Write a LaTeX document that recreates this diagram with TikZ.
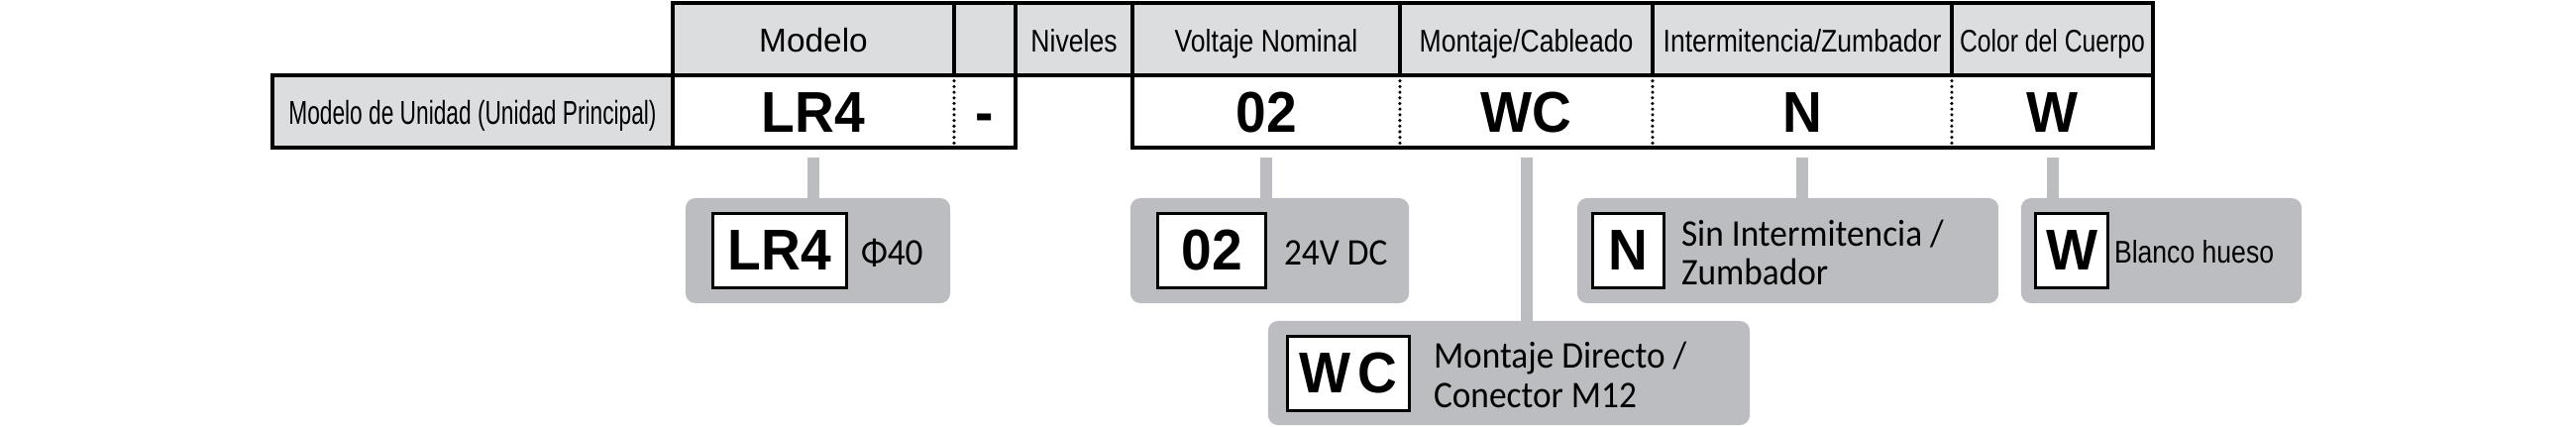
\documentclass[tikz,border=0pt]{standalone}
\usepackage{graphicx}
\usepackage{fontspec}
\setmainfont{Liberation Sans}
\newfontfamily\condfont[FakeStretch=0.84]{Liberation Sans}
\newfontfamily\narrowfont[FakeStretch=0.68]{Liberation Sans}
\newfontfamily\valfont[FakeStretch=0.95]{Liberation Sans}
\newfontfamily\descfont[FakeStretch=0.93]{Carlito}
\definecolor{headgray}{HTML}{DCDDDF}
\definecolor{boxgray}{HTML}{BCBDC0}

\begin{document}
\begin{tikzpicture}[x=0.01cm, y=-0.01cm,
  every node/.style={inner sep=0pt, outer sep=0pt},
  cell/.style={minimum height=0.73cm},
  head/.style={cell, fill=headgray, text height=0.26cm, text depth=0cm, font=\condfont\fontsize{9}{10}\selectfont},
  value/.style={cell, text height=0.42cm, text depth=0cm, font=\valfont\bfseries\fontsize{16.5}{18}\selectfont},
  frame/.style={line width=1.2pt},
  dots/.style={line width=1pt, dash pattern=on 0pt off 1.62pt, line cap=round},
  link/.style={draw=boxgray, line width=0.12cm, shorten <=0.1cm},
  option/.style={fill=boxgray, rounded corners=0.1cm, minimum height=1.06cm},
  code/.style={draw, fill=white, line width=0.95pt, minimum height=0.75cm, font=\valfont\bfseries\fontsize{16.5}{18}\selectfont},
  desc/.style={font=\descfont\fontsize{10.8}{11.2}\selectfont, align=left}]
\useasboundingbox (0,0) rectangle (2600,430);

% header row
\node[head, minimum width=2.84cm, font=\fontsize{9.5}{10}\selectfont] (hmod) at (821,39.5) {Modelo};
\node[head, minimum width=0.62cm] (hdash) at (994,39.5) {};
\node[head, minimum width=1.18cm] (hniv) at (1084,39.5) {Niveles};
\node[head, minimum width=2.70cm] (hvolt) at (1278,39.5) {Voltaje Nominal};
\node[head, minimum width=2.55cm] (hmont) at (1540.5,39.5) {Montaje/Cableado};
\node[head, minimum width=3.02cm] (hint) at (1819,39.5) {Intermitencia/Zumbador};
\node[head, minimum width=2.03cm] (hcol) at (2071.5,39.5) {\scalebox{0.93}[1]{Color del Cuerpo}};

% value row
\node[cell, fill=headgray, minimum width=4.04cm, text height=0.25cm, text depth=0cm, font=\narrowfont\fontsize{9.5}{10}\selectfont] (unit) at (477,112.5) {Modelo de Unidad (Unidad Principal)};
\node[value, minimum width=2.84cm] (vmod) at (821,112.5) {LR4};
\node[value, minimum width=0.62cm] (vdash) at (994,112.5) {-};
\node[value, minimum width=2.70cm] (vvolt) at (1278,112.5) {02};
\node[value, minimum width=2.55cm] (vmont) at (1540.5,112.5) {WC};
\node[value, minimum width=3.02cm] (vint) at (1819,112.5) {N};
\node[value, minimum width=2.03cm] (vcol) at (2071.5,112.5) {W};

% table lines
\draw[frame] (hmod.north west) rectangle (hcol.south east);
\foreach \c in {hdash,hniv,hvolt,hmont,hint,hcol}
  \draw[frame] (\c.north west) -- (\c.south west);
\draw[frame] (unit.north west) rectangle (vdash.south east);
\draw[frame] (vmod.north west) -- (vmod.south west);
\draw[frame] (vvolt.north west) rectangle (vcol.south east);
\foreach \c in {vdash,vmont,vint,vcol}
  \draw[dots] (\c.north west) -- (\c.south west);

% option boxes
\node[option, minimum width=2.67cm] (lr4opt) at (825.5,253) {};
\node[option, minimum width=2.81cm] (voltopt) at (1281.5,253) {};
\node[option, minimum width=4.25cm] (intopt) at (1804.5,253) {};
\node[option, minimum width=2.83cm] (colopt) at (2181.5,253) {};
\node[option, minimum width=4.86cm, minimum height=1.05cm] (montopt) at (1523,376.5) {};

\draw[link] (vmod.south) -- (vmod.south |- lr4opt.north);
\draw[link] (vvolt.south) -- (vvolt.south |- voltopt.north);
\draw[link] (vmont.south) -- (vmont.south |- montopt.north);
\draw[link] (vint.south) -- (vint.south |- intopt.north);
\draw[link] (vcol.south) -- (vcol.south |- colopt.north);

% codes
\node[code, minimum width=1.35cm] (lr4code) at (787,253) {LR4};
\node[code, minimum width=1.09cm] (voltcode) at (1223,253) {02};
\node[code, minimum width=0.72cm] (intcode) at (1643.5,253) {N};
\node[code, minimum width=0.73cm] (colcode) at (2091,253) {W};
\node[code, minimum width=1.23cm] (montcode) at (1361,377) {W\kern2pt C};

% descriptions
\node[desc, anchor=base west] (lr4desc) at (869,267) {Φ40};
\node[desc, anchor=base west] (voltdesc) at (1296,267) {24V DC};
\node[desc, anchor=west] (intdesc) at (1697,255) {Sin Intermitencia /\\Zumbador};
\node[desc, anchor=west] (montdesc) at (1447,378.5) {Montaje Directo /\\Conector M12};
\node[anchor=base west, font=\condfont\fontsize{9}{10}\selectfont] (coldesc) at (2134,265) {Blanco hueso};
\end{tikzpicture}
\end{document}
